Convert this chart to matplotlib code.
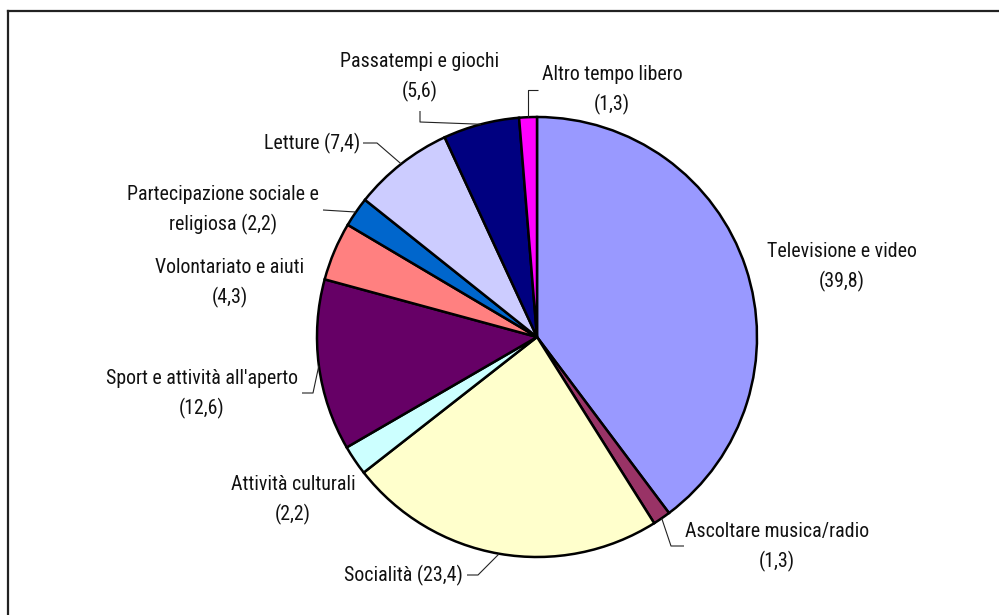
import numpy as np
import matplotlib
matplotlib.use("Agg")
import matplotlib.pyplot as plt
from matplotlib.lines import Line2D

categories = ["Televisione e video", "Ascoltare musica/radio", "Socialità",
              "Attività culturali", "Sport e attività all'aperto",
              "Volontariato e aiuti", "Partecipazione sociale e religiosa",
              "Letture", "Passatempi e giochi", "Altro tempo libero"]
values = [39.8, 1.3, 23.4, 2.2, 12.6, 4.3, 2.2, 7.4, 5.6, 1.3]
label_texts = ["Televisione e video\n(39,8)", "Ascoltare musica/radio\n(1,3)",
               "Socialità (23,4)", "Attività culturali\n(2,2)",
               "Sport e attività all'aperto\n(12,6)", "Volontariato e aiuti\n(4,3)",
               "Partecipazione sociale e\nreligiosa (2,2)", "Letture (7,4)",
               "Passatempi e giochi\n(5,6)", "Altro tempo libero\n(1,3)"]
colors = ["#9999FF", "#993366", "#FFFFCC", "#CCFFFF", "#660066",
          "#FF8080", "#0066CC", "#CCCCFF", "#000080", "#FF00FF"]

plt.rcParams['font.family'] = ['Liberation Sans Narrow', 'Arial Narrow', 'Roboto Condensed',
                               'Archivo Narrow', 'PT Sans Narrow', 'Liberation Sans', 'DejaVu Sans']

W, H = 999, 615
fig = plt.figure(figsize=(W / 100, H / 100), dpi=100)
ax = fig.add_axes([0, 0, 1, 1])

cx, cy, R = 537, H - 337, 220
wedges, _ = ax.pie(values, colors=colors, startangle=90, counterclock=False,
                   center=(cx, cy), radius=R,
                   wedgeprops=dict(edgecolor='black', linewidth=1.8))
ax.set_xlim(0, W)
ax.set_ylim(0, H)
ax.set_aspect('auto')
ax.axis('off')

def img(y):
    return H - y

layout = [
    (842, 267, 'center', None),
    (777, 547, 'center', [(671, 546), (684, 546)]),
    (463, 575, 'right', [(478, 575), (467, 575)]),
    (293, 500, 'center', None),
    (202, 394, 'center', [(313, 393), (302, 393)]),
    (230, 283, 'center', None),
    (223, 210, 'center', [(323, 210)]),
    (312, 143, 'center', [(377, 143), (363, 143)]),
    (420, 77, 'center', [(420, 122), (420, 111)]),
    (612, 90, 'center', [('edge', 90), (538, 90)]),
]

for w, txt, (lx, ly, ha, path) in zip(wedges, label_texts, layout):
    mid = np.deg2rad((w.theta1 + w.theta2) / 2)
    ex, ey = cx + R * np.cos(mid), cy + R * np.sin(mid)
    if path is not None:
        xs, ys = [ex], [ey]
        for px, py in path:
            xs.append(ex if px == 'edge' else px)
            ys.append(img(py))
        ax.plot(xs, ys, color='#222222', lw=0.8, solid_capstyle='butt')
    ax.text(lx, img(ly), txt, ha=ha, va='center', multialignment='center',
            fontsize=14.3, linespacing=1.62, color='#111111')

fig.add_artist(Line2D([8 / W, 8 / W], [0, 1 - 11 / H], color='#222222', lw=1.6,
                      transform=fig.transFigure))
fig.add_artist(Line2D([8 / W, 1], [1 - 11 / H, 1 - 11 / H], color='#222222', lw=1.6,
                      transform=fig.transFigure))

fig.savefig("out.png", dpi=100)
